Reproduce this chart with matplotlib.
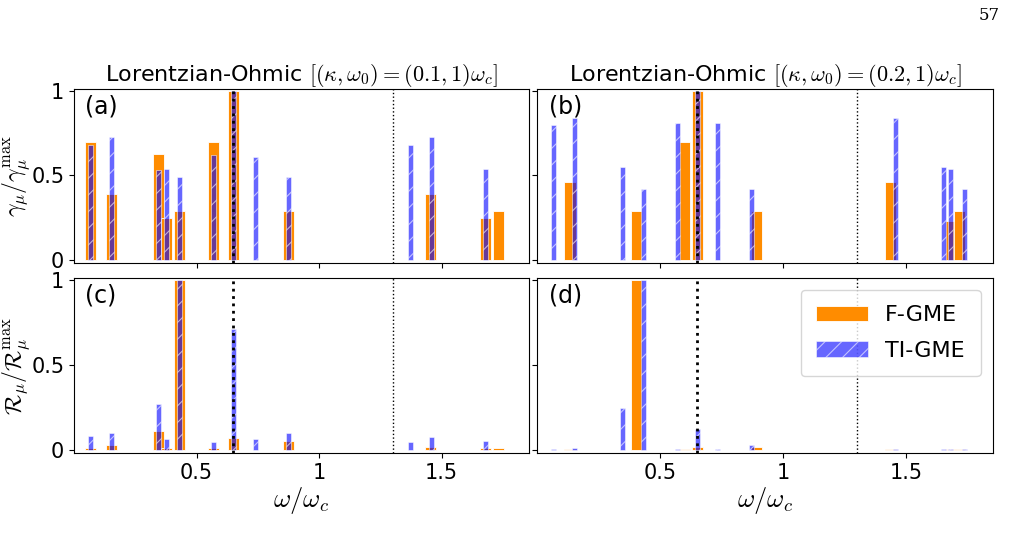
import matplotlib
matplotlib.use("Agg")
import matplotlib.pyplot as plt

plt.rcParams['font.family'] = ['DejaVu Sans']
plt.rcParams['mathtext.fontset'] = 'cm'
plt.rcParams['hatch.color'] = 'white'
plt.rcParams['hatch.linewidth'] = 0.8

# frequencies (omega / omega_c) and normalised values
# left column: (kappa, omega0) = (0.1, 1) omega_c
freq_f_a = [0.067, 0.152, 0.345, 0.378, 0.429, 0.568, 0.652, 0.876, 1.455, 1.680, 1.733]
gamma_f_a = [0.70, 0.39, 0.63, 0.25, 0.29, 0.70, 1.00, 0.29, 0.39, 0.25, 0.29]
rate_f_a = [0.01, 0.025, 0.11, 0.01, 1.00, 0.012, 0.07, 0.053, 0.018, 0.01, 0.01]

freq_t_a = [0.068, 0.154, 0.344, 0.376, 0.429, 0.568, 0.651, 0.739, 0.876, 1.371, 1.457, 1.680]
gamma_t_a = [0.68, 0.73, 0.53, 0.54, 0.49, 0.62, 1.00, 0.61, 0.49, 0.68, 0.73, 0.54]
rate_t_a = [0.083, 0.097, 0.27, 0.061, 1.00, 0.043, 0.71, 0.061, 0.10, 0.043, 0.073, 0.049]

# right column: (kappa, omega0) = (0.2, 1) omega_c
freq_f_b = [0.133, 0.405, 0.599, 0.651, 0.890, 1.438, 1.680, 1.716]
gamma_f_b = [0.46, 0.29, 0.70, 1.00, 0.29, 0.46, 0.23, 0.29]
rate_f_b = [0.002, 1.00, 0.002, 0.018, 0.014, 0.002, 0.003, 0.003]

freq_t_b = [0.067, 0.152, 0.348, 0.431, 0.571, 0.652, 0.734, 0.871, 1.457, 1.651, 1.680, 1.737]
gamma_t_b = [0.80, 0.84, 0.55, 0.42, 0.81, 1.00, 0.81, 0.42, 0.84, 0.55, 0.54, 0.42]
rate_t_b = [0.002, 0.008, 0.243, 1.00, 0.004, 0.12, 0.004, 0.026, 0.003, 0.003, 0.005, 0.005]

titles = [r'Lorentzian-Ohmic $[(\kappa,\omega_0)=(0.1,1)\omega_c]$',
          r'Lorentzian-Ohmic $[(\kappa,\omega_0)=(0.2,1)\omega_c]$']
panel_labels = ['(a)', '(b)', '(c)', '(d)']
omega_mark = 0.65
omega_mark2 = 1.3


def draw_bars(ax, xf, yf, xt, yt):
    ax.bar(xf, yf, width=0.045, color='darkorange', edgecolor='white',
           linewidth=0.6, label='F-GME', zorder=2)
    ax.bar(xt, yt, width=0.02, color='blue', alpha=0.6, hatch='//',
           edgecolor='white', linewidth=0.6, label='TI-GME', zorder=3)
    ax.axvline(omega_mark, color='black', ls=':', lw=2, zorder=4)
    ax.axvline(omega_mark2, color='black', ls=':', lw=1, zorder=4)


fig = plt.figure(figsize=(10.14, 5.42), dpi=100)
W, H = 1014, 542
boxes = [(74, 89, 528.7, 263.3), (537.3, 89, 993.3, 263.3),
         (74, 278.3, 528.7, 453), (537.3, 278.3, 993.3, 453)]
axes = []
for (x0, y0, x1, y1) in boxes:
    axes.append(fig.add_axes([x0 / W, 1 - y1 / H, (x1 - x0) / W, (y1 - y0) / H]))

data = [(freq_f_a, gamma_f_a, freq_t_a, gamma_t_a),
        (freq_f_b, gamma_f_b, freq_t_b, gamma_t_b),
        (freq_f_a, rate_f_a, freq_t_a, rate_t_a),
        (freq_f_b, rate_f_b, freq_t_b, rate_t_b)]

for i, ax in enumerate(axes):
    draw_bars(ax, *data[i])
    ax.set_xlim(0, 1.855)
    ax.set_ylim(-0.02, 1.012)
    ax.set_xticks([0.5, 1, 1.5])
    ax.set_yticks([0, 0.5, 1])
    ax.tick_params(labelsize=15, length=3.5)
    ax.text(0.025, 0.97, panel_labels[i], transform=ax.transAxes, fontsize=17,
            va='top', ha='left')
    if i < 2:
        ax.set_xticklabels([])
        ax.set_title(titles[i], fontsize=16, pad=6)
    else:
        ax.set_xticklabels(['0.5', '1', '1.5'])
        ax.set_xlabel(r'$\omega/\omega_c$', fontsize=19, labelpad=2)
    if i % 2 == 1:
        ax.set_yticklabels([])
    else:
        ax.set_yticklabels(['0', '0.5', '1'])

axes[0].set_ylabel(r'$\gamma_\mu/\gamma_\mu^{\max}$', fontsize=17)
axes[2].set_ylabel(r'$\mathcal{R}_\mu/\mathcal{R}_\mu^{\max}$', fontsize=17)
axes[0].yaxis.set_label_coords(-0.093, 0.5)
axes[2].yaxis.set_label_coords(-0.093, 0.5)

axes[3].legend(loc='upper right', fontsize=16, handlelength=2.3,
               borderpad=0.7, labelspacing=0.7, borderaxespad=0,
               bbox_to_anchor=(0.972, 0.935))

fig.text(1000 / W, 1 - 15 / H, '57', fontsize=12, family='DejaVu Serif',
         ha='right', va='center')

fig.savefig('out.png', dpi=100)
